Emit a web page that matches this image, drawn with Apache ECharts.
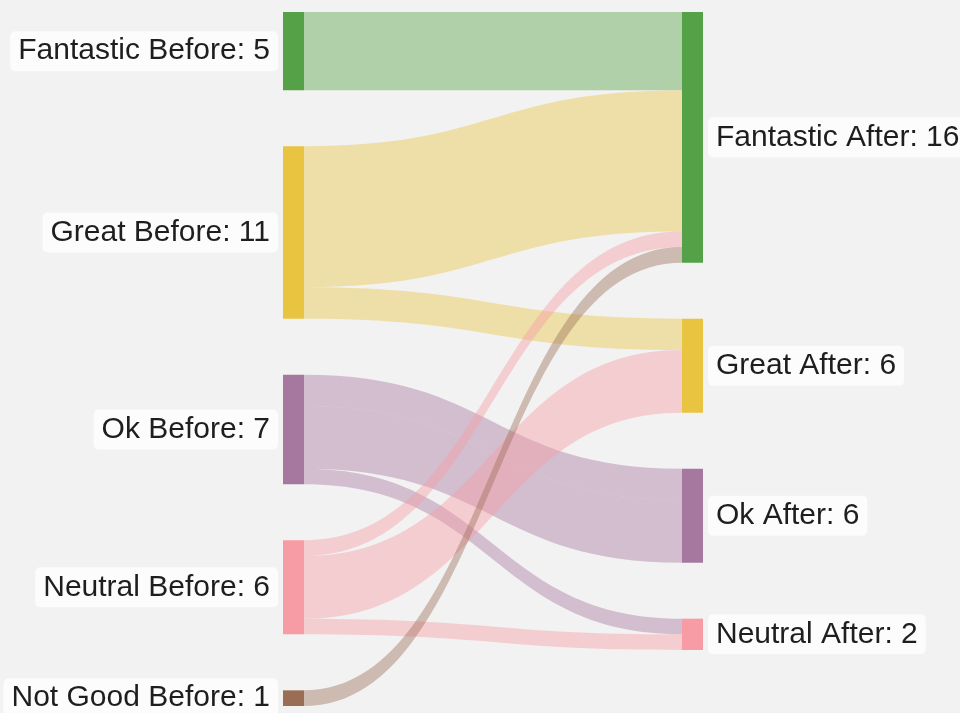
<!DOCTYPE html>
<html>
<head>
<meta charset="utf-8">
<script src="https://cdn.jsdelivr.net/npm/echarts@6/dist/echarts.min.js"></script>
<style>
  html, body { margin: 0; padding: 0; background: #f2f2f2; }
  #main { width: 960px; height: 713px; }
</style>
</head>
<body>
<div id="main"></div>
<script>
// nodes
var nodeNames = ['Fantastic Before', 'Great Before', 'Ok Before', 'Neutral Before', 'Not Good Before',
                 'Fantastic After', 'Great After', 'Ok After', 'Neutral After'];
var nodeColors = ['#55a147', '#e9c440', '#a6779f', '#f79ca5', '#9a6d55',
                  '#55a147', '#e9c440', '#a6779f', '#f79ca5'];

// links (Ok -> Ok comes in two pieces in the source data)
var linkSources = ['Fantastic Before', 'Great Before', 'Great Before', 'Ok Before', 'Ok Before', 'Ok Before',
                   'Neutral Before', 'Neutral Before', 'Neutral Before', 'Not Good Before'];
var linkTargets = ['Fantastic After', 'Fantastic After', 'Great After', 'Ok After', 'Ok After', 'Neutral After',
                   'Fantastic After', 'Great After', 'Neutral After', 'Fantastic After'];
var linkValues = [5, 9, 2, 2, 4, 1, 1, 4, 1, 1];

var nodes = nodeNames.map(function (name, i) {
    var isLeft = name.indexOf('Before') >= 0;
    return {
        name: name,
        itemStyle: { color: nodeColors[i] },
        label: { position: isLeft ? 'left' : 'right' }
    };
});

var links = linkSources.map(function (s, i) {
    return { source: s, target: linkTargets[i], value: linkValues[i] };
});

var option = {
    backgroundColor: '#f2f2f2',
    series: [{
        type: 'sankey',
        left: 283,
        right: 257,
        top: 12,
        bottom: 7,
        nodeWidth: 21,
        nodeGap: 56,
        layoutIterations: 0,   // keep the data order in each column
        draggable: false,
        emphasis: { disabled: true },
        data: nodes,
        links: links,
        itemStyle: { borderWidth: 0 },
        lineStyle: { color: 'source', opacity: 0.42, curveness: 0.5 },
        label: {
            fontFamily: 'Liberation Sans, Arial, sans-serif',
            fontSize: 30,
            color: '#1e1e1e',
            distance: 5,
            backgroundColor: 'rgba(255,255,255,0.75)',
            borderRadius: 5,
            padding: [6, 8, 4, 8],
            formatter: function (p) { return p.name + ': ' + p.value; }
        }
    }]
};

var chart = echarts.init(document.getElementById('main'));
chart.setOption(option);
</script>
</body>
</html>
